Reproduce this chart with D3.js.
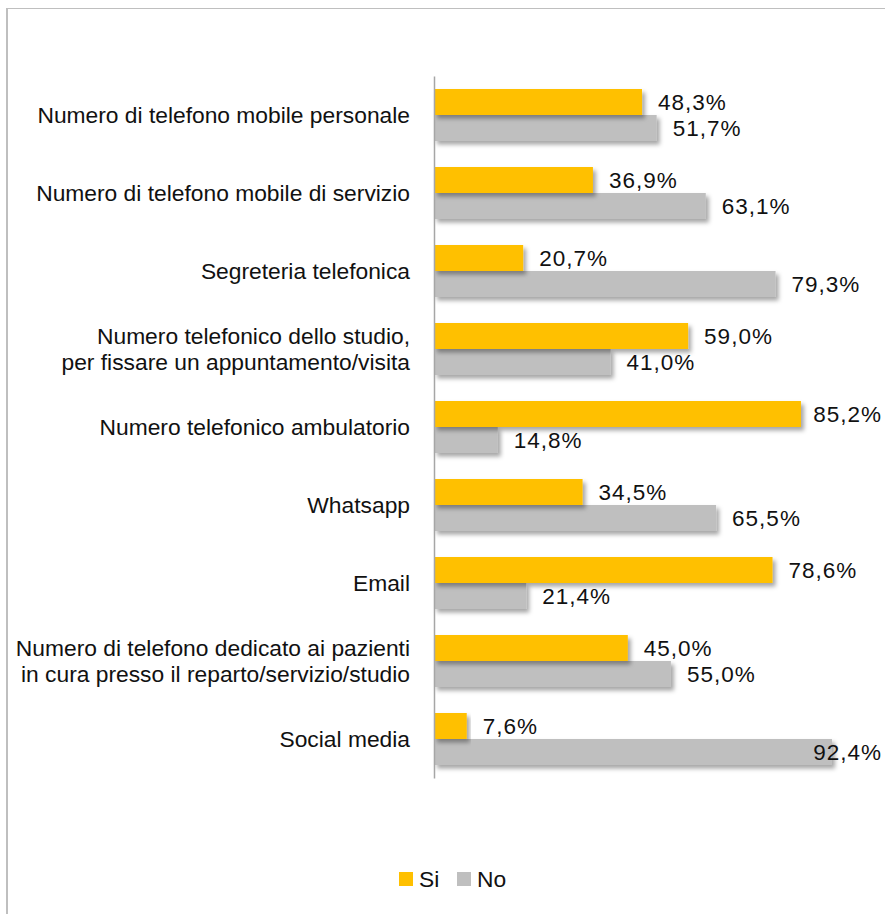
<!DOCTYPE html>
<html>
<head>
<meta charset="utf-8">
<script src="https://cdn.jsdelivr.net/npm/d3@7"></script>
<style>
  html, body { margin: 0; padding: 0; background: #fff; }
  svg { display: block; font-family: "Liberation Sans", Arial, sans-serif; }
</style>
</head>
<body>
<svg id="chart" width="885" height="914"></svg>
<script>
// Channels and answers
const categories = [
  "Numero di telefono mobile personale",
  "Numero di telefono mobile di servizio",
  "Segreteria telefonica",
  "Numero telefonico dello studio,\nper fissare un appuntamento/visita",
  "Numero telefonico ambulatorio",
  "Whatsapp",
  "Email",
  "Numero di telefono dedicato ai pazienti\nin cura presso il reparto/servizio/studio",
  "Social media"
];
const seriesNames = ["Si", "No"];
const siValues = [48.3, 36.9, 20.7, 59.0, 85.2, 34.5, 78.6, 45.0, 7.6];
const noValues = [51.7, 63.1, 79.3, 41.0, 14.8, 65.5, 21.4, 55.0, 92.4];
const seriesColors = ["#FFC000", "#BFBFBF"];

const fmt = v => v.toFixed(1).replace(".", ",") + "%";

const svg = d3.select("#chart");
const W = 885, H = 914;
const plotLeft = 434, plotTop = 76, plotBottom = 778;
const labelLimit = 882;
const fontSize = 22.8;

// outer frame (top and left edges)
svg.append("line").attr("x1", 7).attr("x2", W).attr("y1", 8.5).attr("y2", 8.5)
  .attr("stroke", "#BFBFBF").attr("stroke-width", 1);
svg.append("line").attr("x1", 7).attr("x2", 7).attr("y1", 8).attr("y2", H)
  .attr("stroke", "#BFBFBF").attr("stroke-width", 2);

// soft drop shadow on bars
const defs = svg.append("defs");
const f = defs.append("filter").attr("id", "shadow")
  .attr("x", "-5%").attr("y", "-30%").attr("width", "115%").attr("height", "180%");
f.append("feDropShadow").attr("dx", 3).attr("dy", 3.5).attr("stdDeviation", 2)
  .attr("flood-color", "#000").attr("flood-opacity", 0.35);

const x = d3.scaleLinear().domain([0, 100]).range([plotLeft, plotLeft + 430.7]);
const y = d3.scaleBand().domain(categories).range([plotTop, plotBottom]).padding(0);
const y1 = d3.scaleBand().domain(seriesNames).range([13, y.bandwidth() - 13]).padding(0);

const rows = categories.map((c, i) => ({ cat: c, vals: [siValues[i], noValues[i]] }));

const groups = svg.append("g").selectAll("g").data(rows).join("g")
  .attr("transform", d => `translate(0,${y(d.cat)})`);

// draw No first so the Si bar sits on top of its shadow
[1, 0].forEach(s => {
  groups.append("rect")
    .attr("x", x(0))
    .attr("y", y1(seriesNames[s]))
    .attr("width", d => x(d.vals[s]) - x(0))
    .attr("height", y1.bandwidth())
    .attr("fill", seriesColors[s])
    .attr("filter", "url(#shadow)");
});

// value labels
[0, 1].forEach(s => {
  groups.append("text")
    .attr("y", y1(seriesNames[s]) + y1.bandwidth() / 2 + 8)
    .attr("font-size", 22.5)
    .attr("letter-spacing", 1)
    .attr("fill", "#111")
    .text(d => fmt(d.vals[s]))
    .each(function (d) {
      const w = this.getComputedTextLength();
      let tx = x(d.vals[s]) + 16;
      if (tx + w > labelLimit) tx = labelLimit - w;
      d3.select(this).attr("x", tx);
    });
});

// category axis
const axis = svg.append("g")
  .attr("transform", `translate(${plotLeft},0)`)
  .call(d3.axisLeft(y).tickSize(0).tickSizeOuter(0).tickPadding(24));
axis.select(".domain").attr("stroke", "#A6A6A6").attr("stroke-width", 1.5);
axis.selectAll(".tick text")
  .attr("font-size", fontSize)
  .attr("font-family", "Liberation Sans, Arial, sans-serif")
  .attr("fill", "#111")
  .attr("dy", null)
  .each(function (d) {
    const lines = d.split("\n");
    const t = d3.select(this).text(null);
    lines.forEach((ln, i) => {
      t.append("tspan")
        .attr("x", -24)
        .attr("y", 7.5 + (i - (lines.length - 1) / 2) * 26)
        .text(ln);
    });
  });

// legend
const legend = svg.append("g").attr("transform", "translate(399,872)");
const legendX = [0, 58];
seriesNames.forEach((n, i) => {
  legend.append("rect").attr("x", legendX[i]).attr("y", 0)
    .attr("width", 14).attr("height", 14).attr("fill", seriesColors[i]);
  legend.append("text").attr("x", legendX[i] + 20).attr("y", 15)
    .attr("font-size", fontSize).attr("fill", "#111").text(n);
});
</script>
</body>
</html>
